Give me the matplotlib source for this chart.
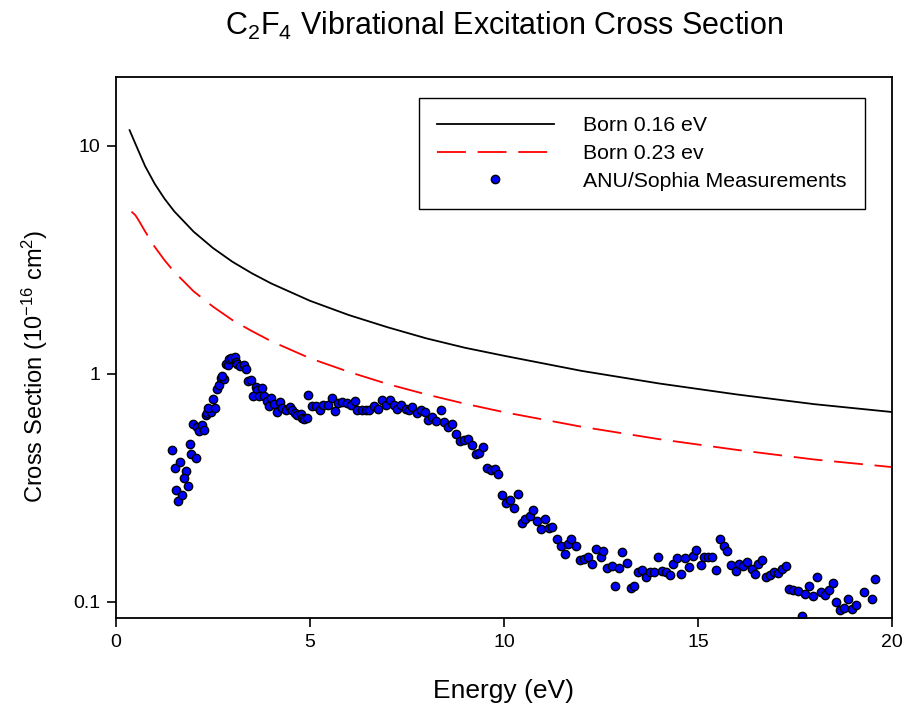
import matplotlib
matplotlib.use("Agg")
import matplotlib.pyplot as plt
from matplotlib.ticker import FixedLocator, FixedFormatter, NullLocator

plt.rcParams['font.family'] = ['Liberation Sans', 'DejaVu Sans']
plt.rcParams['mathtext.fontset'] = 'custom'
plt.rcParams['mathtext.rm'] = 'Liberation Sans'
plt.rcParams['mathtext.default'] = 'regular'

# Born approximation curves
born016_E = [0.35, 0.5, 0.75, 1.0, 1.25, 1.5, 2.0, 2.5, 3.0, 3.5, 4.0, 5.0, 6.0, 7.0,
             8.0, 9.0, 10.0, 12.0, 14.0, 16.0, 18.0, 20.0]
born016 = [11.7, 10.2, 8.14, 6.80, 5.86, 5.16, 4.20, 3.56, 3.10, 2.76, 2.49, 2.09, 1.81, 1.60,
           1.43, 1.30, 1.20, 1.03, 0.907, 0.812, 0.736, 0.68]

born023_E = [0.4, 0.5, 0.6, 0.75, 1.0, 1.25, 1.5, 2.0, 2.5, 3.0, 3.5, 4.0, 5.0, 6.0, 7.0,
             8.0, 9.0, 10.0, 12.0, 14.0, 16.0, 18.0, 20.0]
born023 = [5.14, 4.96, 4.66, 4.21, 3.60, 3.15, 2.80, 2.30, 1.97, 1.72, 1.54, 1.39, 1.17, 1.02, 0.902,
           0.812, 0.739, 0.679, 0.586, 0.517, 0.464, 0.421, 0.39]

# ANU/Sophia measurements
anu_E = [1.45, 1.51, 1.65, 1.54, 1.60, 1.69, 1.80, 1.75, 1.86, 1.91, 1.93, 2.05, 1.98, 2.10,
         2.14, 2.21, 2.27, 2.31, 2.35, 2.44, 2.38, 2.55, 2.50, 2.60, 2.65, 2.70, 2.78, 2.74,
         2.84, 2.89, 2.91, 2.97, 3.06, 3.09, 3.13, 3.20, 3.30, 3.34, 3.39, 3.49, 3.60, 3.64,
         3.76, 3.54, 3.69, 3.81, 3.88, 3.99, 3.94, 4.07, 4.16, 4.24, 4.29, 4.37, 4.48, 4.53,
         4.61, 4.66, 4.76, 4.80, 4.85, 4.93, 4.96, 5.04, 5.15, 5.25, 5.34, 5.47, 5.56, 5.64,
         5.73, 5.83, 5.96, 6.05, 6.15, 6.22, 6.33, 6.44, 6.52, 6.65, 6.76, 6.85, 6.95,
         7.06, 7.16, 7.25, 7.35, 7.47, 7.55, 7.64, 7.75, 7.85, 7.96, 8.04, 8.14, 8.26, 8.37,
         8.45, 8.56, 8.65, 8.77, 8.86, 8.97, 9.07, 9.17, 9.27, 9.36, 9.46, 9.55, 9.66, 9.76,
         9.85, 9.96, 10.04, 10.15, 10.26, 10.37, 10.46, 10.54, 10.66, 10.76, 10.86, 10.95,
         11.06, 11.16, 11.24, 11.36, 11.46, 11.56, 11.65, 11.74, 11.86, 11.96, 12.06, 12.16,
         12.26, 12.36,
         12.49, 12.55, 12.66, 12.78, 12.86, 12.96, 13.05, 13.18, 13.27, 13.35, 13.45, 13.56,
         13.67, 13.76, 13.87, 13.97, 14.06, 14.17, 14.27, 14.36, 14.47, 14.55, 14.66, 14.77,
         14.87, 14.96, 15.07, 15.15, 15.27, 15.37, 15.46, 15.57, 15.67, 15.76, 15.86, 15.97,
         16.07, 16.16, 16.27, 16.38, 16.47, 16.55, 16.66, 16.76, 16.86, 16.96, 17.07, 17.17,
         17.28, 17.35, 17.45, 17.58, 17.67, 17.76, 17.86, 17.97, 18.07, 18.16, 18.27, 18.38,
         18.48, 18.55, 18.65, 18.76, 18.87, 18.96, 19.06, 19.28, 19.48, 19.56]
anu_sigma = [0.463, 0.386, 0.412, 0.308, 0.276, 0.293, 0.376, 0.351, 0.323, 0.492, 0.445, 0.427,
             0.604, 0.582, 0.562, 0.596, 0.566, 0.661, 0.673, 0.680, 0.708, 0.710, 0.773, 0.861,
             0.897, 0.960, 0.953, 0.983, 1.099, 1.088, 1.165, 1.177, 1.185, 1.126, 1.099, 1.081,
             1.092, 1.052, 0.929, 0.944, 0.874, 0.853, 0.867, 0.802, 0.797, 0.797, 0.760, 0.781,
             0.725, 0.737, 0.677, 0.750, 0.708, 0.692, 0.715, 0.692, 0.673, 0.661, 0.666, 0.639,
             0.633, 0.639, 0.808, 0.720, 0.725, 0.696, 0.732, 0.732, 0.784, 0.689, 0.745, 0.752,
             0.745, 0.732, 0.757, 0.696, 0.696, 0.696, 0.696, 0.720, 0.700, 0.765, 0.732,
             0.770, 0.732, 0.700, 0.727, 0.700, 0.696, 0.713, 0.673, 0.696, 0.680, 0.628, 0.646,
             0.618, 0.691, 0.614, 0.582, 0.601, 0.545, 0.505, 0.513, 0.516, 0.488, 0.443, 0.448,
             0.480, 0.385, 0.378, 0.382, 0.363, 0.293, 0.272, 0.279, 0.258, 0.296, 0.222, 0.230,
             0.238, 0.254, 0.226, 0.209, 0.230, 0.211, 0.213, 0.189, 0.176, 0.162, 0.179, 0.189,
             0.176, 0.152, 0.154, 0.158, 0.146, 0.171,
             0.157, 0.167, 0.141, 0.144, 0.117, 0.141, 0.166, 0.148, 0.115, 0.117, 0.135, 0.138,
             0.128, 0.135, 0.135, 0.158, 0.136, 0.135, 0.131, 0.146, 0.156, 0.133, 0.156, 0.142,
             0.159, 0.169, 0.145, 0.158, 0.158, 0.158, 0.138, 0.189, 0.175, 0.168, 0.145, 0.136,
             0.146, 0.143, 0.150, 0.139, 0.133, 0.146, 0.152, 0.129, 0.131, 0.135, 0.134, 0.140,
             0.144, 0.114, 0.113, 0.112, 0.087, 0.108, 0.118, 0.106, 0.129, 0.111, 0.107, 0.113,
             0.121, 0.0998, 0.0917, 0.0943, 0.1026, 0.0927, 0.0968, 0.1105, 0.1026, 0.1257]

x_ticks = [0, 5, 10, 15, 20]
y_ticks = [0.1, 1, 10]
y_tick_labels = ['0.1', '1', '10']

fig = plt.figure(figsize=(9.04, 7.12), dpi=100)
ax = fig.add_axes([0.1283, 0.1320, 0.8584, 0.7598])

ax.plot(born016_E, born016, color='black', lw=1.3, label='Born 0.16 eV')
ax.plot(born023_E, born023, color='red', lw=1.3, linestyle=(0, (16, 6.5)), label='Born 0.23 ev')
ax.plot(anu_E, anu_sigma, linestyle='none', marker='o', ms=6, mfc='#0000ff', mec='black',
        mew=1.0, label='ANU/Sophia Measurements')

ax.set_yscale('log')
ax.set_xlim(0, 20)
ax.set_ylim(0.085, 20)
ax.yaxis.set_major_locator(FixedLocator(y_ticks))
ax.yaxis.set_major_formatter(FixedFormatter(y_tick_labels))
ax.yaxis.set_minor_locator(NullLocator())
ax.set_xticks(x_ticks)
ax.tick_params(direction='out', length=6.5, width=1.2, labelsize=14, pad=5)
for sp in ax.spines.values():
    sp.set_linewidth(1.3)

ax.set_xlabel('Energy (eV)', fontsize=19)
ax.xaxis.set_label_coords(0.5, -0.112)
ax.set_ylabel('Cross Section (10$^{-16}$ cm$^{2}$)', fontsize=17)
ax.yaxis.set_label_coords(-0.085, 0.466)
ax.set_title('C$_2$F$_4$ Vibrational Excitation Cross Section', fontsize=22, pad=30)

leg = ax.legend(loc='upper right', bbox_to_anchor=(0.965, 0.9606), fontsize=15.3, frameon=True,
                fancybox=False, edgecolor='black', framealpha=1, handlelength=5.46,
                handletextpad=1.4, labelspacing=0.41, borderpad=0.85, borderaxespad=0,
                numpoints=1)
leg.get_frame().set_linewidth(1.0)

fig.savefig('out.png', dpi=100)
